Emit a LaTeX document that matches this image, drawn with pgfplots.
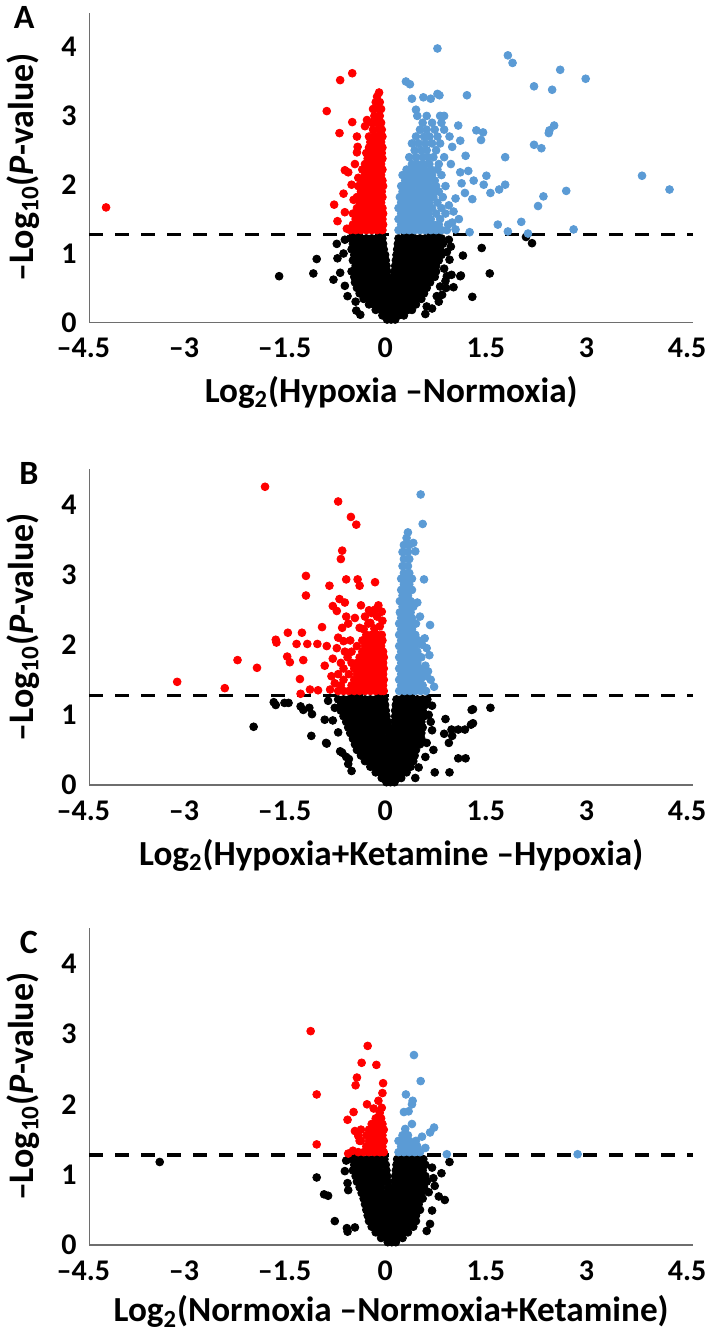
\documentclass[border=0pt]{standalone}
\usepackage{pgfplots}
\pgfplotsset{compat=1.18}
\usepackage{fontspec}
\setmainfont{Carlito}
\definecolor{upblue}{RGB}{91,155,213}
\definecolor{downred}{RGB}{255,0,0}
\definecolor{axgray}{RGB}{110,110,110}
\tikzset{letter/.style={font=\fontsize{17}{20}\selectfont\bfseries}}
\pgfplotsset{
 volc/.style={
  scale only axis, width=301.85pt,
  xmin=-4.5, xmax=4.5, ymin=0, ymax=4.5,
  axis x line*=bottom, axis y line*=left,
  axis line style={axgray, line width=0.7pt},
  xtick={-4.5,-3,-1.5,0,1.5,3,4.5},
  xticklabels={\textendash4.5,\textendash3,\textendash1.5,0,1.5,3,4.5},
  ytick={0,1,2,3,4},
  yticklabels={0,1,2,3,4},
  major tick length=0pt,
  tick style={draw=none},
  ticklabel style={font=\fontsize{15}{17}\selectfont\bfseries, inner sep=0pt},
  xticklabel style={anchor=center, yshift=-12.8pt, xshift=-3pt},
  yticklabel style={anchor=east, xshift=-6.2pt},
  xlabel style={font=\fontsize{17.6}{20}\selectfont\bfseries},
  ylabel style={font=\fontsize{18}{21}\selectfont\bfseries},
  ylabel={\textendash Log\textsubscript{10}(\textit{P}-value)},
  ylabel style={at={(axis description cs:-0.11,0.5)}, anchor=center},
  clip=false,
 },
 dot/.style={only marks, mark=*, mark size=1.95pt, mark options={draw=none}},
 thr/.style={black, line width=1.65pt, dash pattern=on 7pt off 6pt},
}
\begin{document}
\begin{tikzpicture}
%%%%%%%%%%%%%%%% PANEL A
\begin{axis}[volc, at={(0pt,0pt)}, anchor=south west, height=154.8pt,
  xlabel={Log\textsubscript{2}(Hypoxia \textendash Normoxia)},
  xlabel style={at={(axis description cs:0.5,-0.226)}, anchor=center}]
\addplot[dot, black] coordinates {
(-0.61,1.22)(-0.53,1.22)(-0.45,1.22)(-0.37,1.22)(-0.29,1.22)(-0.21,1.22)(-0.13,1.22)(0.11,1.22)(0.19,1.22)(0.27,1.22)(0.35,1.22)(0.43,1.22)(0.51,1.22)(0.59,1.22)(0.67,1.22)(0.75,1.22)
(-0.57,1.14)(-0.49,1.14)(-0.41,1.14)(-0.33,1.14)(-0.25,1.14)(-0.17,1.14)(-0.12,1.14)(0.10,1.14)(0.15,1.14)(0.23,1.14)(0.31,1.14)(0.39,1.14)(0.47,1.14)(0.55,1.14)(0.63,1.14)(0.71,1.14)(0.77,1.14)
(-0.59,1.06)(-0.51,1.06)(-0.43,1.06)(-0.35,1.06)(-0.27,1.06)(-0.19,1.06)(-0.11,1.06)(0.09,1.06)(0.17,1.06)(0.25,1.06)(0.33,1.06)(0.41,1.06)(0.49,1.06)(0.57,1.06)(0.65,1.06)(0.73,1.06)
(-0.55,0.98)(-0.47,0.98)(-0.39,0.98)(-0.31,0.98)(-0.23,0.98)(-0.15,0.98)(-0.09,0.98)(0.08,0.98)(0.13,0.98)(0.21,0.98)(0.29,0.98)(0.37,0.98)(0.45,0.98)(0.53,0.98)(0.61,0.98)(0.69,0.98)(0.75,0.98)
(-0.57,0.90)(-0.49,0.90)(-0.41,0.90)(-0.33,0.90)(-0.25,0.90)(-0.17,0.90)(-0.08,0.90)(0.07,0.90)(0.15,0.90)(0.23,0.90)(0.31,0.90)(0.39,0.90)(0.47,0.90)(0.55,0.90)(0.63,0.90)(0.71,0.90)
(-0.53,0.82)(-0.45,0.82)(-0.37,0.82)(-0.29,0.82)(-0.21,0.82)(-0.13,0.82)(-0.07,0.82)(0.06,0.82)(0.11,0.82)(0.19,0.82)(0.27,0.82)(0.35,0.82)(0.43,0.82)(0.51,0.82)(0.59,0.82)(0.67,0.82)
(-0.59,0.74)(-0.51,0.74)(-0.43,0.74)(-0.35,0.74)(-0.27,0.74)(-0.19,0.74)(-0.11,0.74)(-0.06,0.74)(0.05,0.74)(0.13,0.74)(0.21,0.74)(0.29,0.74)(0.37,0.74)(0.45,0.74)(0.53,0.74)(0.61,0.74)(0.67,0.74)
(-0.55,0.66)(-0.47,0.66)(-0.39,0.66)(-0.31,0.66)(-0.23,0.66)(-0.15,0.66)(-0.05,0.66)(0.04,0.66)(0.09,0.66)(0.17,0.66)(0.25,0.66)(0.33,0.66)(0.41,0.66)(0.49,0.66)(0.57,0.66)(0.65,0.66)
(-0.54,0.58)(-0.46,0.58)(-0.38,0.58)(-0.30,0.58)(-0.22,0.58)(-0.14,0.58)(-0.06,0.58)(0.02,0.58)(0.10,0.58)(0.18,0.58)(0.26,0.58)(0.34,0.58)(0.42,0.58)(0.50,0.58)(0.58,0.58)
(-0.51,0.50)(-0.43,0.50)(-0.35,0.50)(-0.27,0.50)(-0.19,0.50)(-0.11,0.50)(-0.03,0.50)(0.05,0.50)(0.13,0.50)(0.21,0.50)(0.29,0.50)(0.37,0.50)(0.45,0.50)(0.53,0.50)
(-0.47,0.42)(-0.39,0.42)(-0.31,0.42)(-0.23,0.42)(-0.15,0.42)(-0.07,0.42)(0.01,0.42)(0.09,0.42)(0.17,0.42)(0.25,0.42)(0.33,0.42)(0.41,0.42)(0.49,0.42)
(-0.41,0.34)(-0.33,0.34)(-0.25,0.34)(-0.17,0.34)(-0.09,0.34)(-0.01,0.34)(0.07,0.34)(0.15,0.34)(0.23,0.34)(0.31,0.34)(0.39,0.34)(0.45,0.34)
(-0.33,0.26)(-0.25,0.26)(-0.17,0.26)(-0.09,0.26)(-0.01,0.26)(0.07,0.26)(0.15,0.26)(0.23,0.26)(0.31,0.26)(0.37,0.26)
(-0.23,0.18)(-0.15,0.18)(-0.07,0.18)(0.01,0.18)(0.09,0.18)(0.17,0.18)(0.25,0.18)(0.31,0.18)
(-0.13,0.10)(-0.05,0.10)(0.03,0.10)(0.11,0.10)(0.19,0.10)
(-0.06,0.04)(0.00,0.04)(0.06,0.04)
(-1.67,0.67)(-1.16,0.71)(-1.11,0.92)(-0.81,1.14)(-0.80,0.93)(-0.86,0.62)(-0.76,0.72)(-0.69,0.53)(-0.65,0.38)(-0.53,0.30)(-0.52,0.17)(-0.46,0.11)(-0.71,1.00)(-0.69,1.20)
(2.01,1.24)(2.10,1.15)(1.35,1.08)(1.07,0.97)(1.47,0.71)(1.04,0.68)(0.90,0.69)(1.21,0.37)(0.93,0.51)(0.82,0.50)(0.87,0.91)(0.86,1.20)(0.89,1.10)(0.81,0.60)(0.76,0.40)(0.71,0.30)(0.61,0.20)(0.51,0.12)(0.79,0.78)(0.83,1.02)(0.83,0.67)(1.03,0.67)(0.73,0.52)(0.68,0.38)(0.53,0.23)
};
\addplot[dot, downred] coordinates {
(-0.61,1.34)(-0.53,1.34)(-0.45,1.34)(-0.37,1.34)(-0.29,1.34)(-0.21,1.34)(-0.13,1.34)
(-0.57,1.42)(-0.49,1.42)(-0.41,1.42)(-0.33,1.42)(-0.25,1.42)(-0.17,1.42)(-0.12,1.42)
(-0.53,1.50)(-0.45,1.50)(-0.37,1.50)(-0.29,1.50)(-0.21,1.50)(-0.13,1.50)
(-0.57,1.58)(-0.49,1.58)(-0.41,1.58)(-0.33,1.58)(-0.25,1.58)(-0.17,1.58)(-0.12,1.58)
(-0.51,1.66)(-0.43,1.66)(-0.35,1.66)(-0.27,1.66)(-0.19,1.66)(-0.13,1.66)
(-0.47,1.74)(-0.39,1.74)(-0.31,1.74)(-0.23,1.74)(-0.15,1.74)
(-0.51,1.82)(-0.43,1.82)(-0.35,1.82)(-0.27,1.82)(-0.19,1.82)(-0.13,1.82)
(-0.45,1.90)(-0.37,1.90)(-0.29,1.90)(-0.21,1.90)(-0.14,1.90)
(-0.49,1.98)(-0.41,1.98)(-0.33,1.98)(-0.25,1.98)(-0.17,1.98)(-0.12,1.98)
(-0.43,2.06)(-0.35,2.06)(-0.27,2.06)(-0.19,2.06)(-0.13,2.06)
(-0.39,2.14)(-0.31,2.14)(-0.23,2.14)(-0.15,2.14)
(-0.43,2.22)(-0.35,2.22)(-0.27,2.22)(-0.19,2.22)(-0.13,2.22)
(-0.39,2.30)(-0.31,2.30)(-0.23,2.30)(-0.15,2.30)
(-0.35,2.38)(-0.27,2.38)(-0.19,2.38)(-0.13,2.38)
(-0.37,2.46)(-0.29,2.46)(-0.21,2.46)(-0.14,2.46)
(-0.33,2.54)(-0.25,2.54)(-0.17,2.54)(-0.13,2.54)
(-0.31,2.62)(-0.23,2.62)(-0.15,2.62)
(-0.33,2.70)(-0.25,2.70)(-0.17,2.70)(-0.13,2.70)
(-0.27,2.80)(-0.19,2.80)(-0.14,2.80)
(-0.29,2.90)(-0.21,2.90)(-0.15,2.90)
(-0.25,3.00)(-0.17,3.00)
(-0.27,3.10)(-0.19,3.10)(-0.15,3.10)
(-0.23,3.20)(-0.17,3.20)(-0.21,3.28)(-0.18,3.34)
(-0.58,3.62)(-0.76,3.52)(-0.96,3.07)(-0.77,2.75)(-0.58,2.91)(-0.85,1.71)(-0.80,1.47)(-0.71,1.87)(-0.69,2.21)(-0.64,2.18)(-0.56,1.78)(-0.66,1.36)(-0.51,2.47)(-0.50,2.55)(-0.51,2.70)(-0.39,2.85)(-0.36,2.94)(-0.69,1.60)(-0.59,2.00)(-0.54,2.30)(-0.49,2.10)
(-4.25,1.67)
};
\addplot[dot, upblue] coordinates {
(0.11,1.34)(0.19,1.34)(0.27,1.34)(0.35,1.34)(0.43,1.34)(0.51,1.34)(0.59,1.34)(0.67,1.34)(0.75,1.34)(0.83,1.34)
(0.15,1.42)(0.23,1.42)(0.31,1.42)(0.39,1.42)(0.47,1.42)(0.55,1.42)(0.63,1.42)(0.71,1.42)(0.85,1.42)
(0.11,1.50)(0.19,1.50)(0.27,1.50)(0.35,1.50)(0.43,1.50)(0.51,1.50)(0.59,1.50)(0.73,1.50)
(0.15,1.58)(0.23,1.58)(0.31,1.58)(0.39,1.58)(0.47,1.58)(0.55,1.58)(0.67,1.58)(0.81,1.58)
(0.11,1.66)(0.19,1.66)(0.27,1.66)(0.35,1.66)(0.43,1.66)(0.51,1.66)(0.61,1.66)(0.75,1.66)
(0.15,1.74)(0.23,1.74)(0.31,1.74)(0.39,1.74)(0.49,1.74)(0.57,1.74)(0.69,1.74)
(0.13,1.82)(0.21,1.82)(0.29,1.82)(0.37,1.82)(0.45,1.82)(0.55,1.82)(0.63,1.82)(0.77,1.82)
(0.17,1.90)(0.25,1.90)(0.33,1.90)(0.41,1.90)(0.51,1.90)(0.61,1.90)(0.71,1.90)
(0.15,1.98)(0.23,1.98)(0.31,1.98)(0.41,1.98)(0.47,1.98)(0.57,1.98)(0.67,1.98)(0.81,1.98)
(0.21,2.06)(0.29,2.06)(0.37,2.06)(0.47,2.06)(0.55,2.06)(0.65,2.06)
(0.17,2.14)(0.27,2.14)(0.35,2.14)(0.43,2.14)(0.53,2.14)(0.61,2.14)(0.75,2.14)
(0.23,2.22)(0.33,2.22)(0.41,2.22)(0.49,2.22)(0.59,2.22)(0.69,2.22)
(0.31,2.30)(0.39,2.30)(0.47,2.30)(0.57,2.30)(0.71,2.30)
(0.27,2.40)(0.37,2.40)(0.47,2.40)(0.55,2.40)(0.63,2.40)(0.79,2.40)
(0.35,2.50)(0.45,2.50)(0.53,2.50)(0.67,2.50)
(0.31,2.60)(0.41,2.60)(0.51,2.60)(0.61,2.60)(0.73,2.60)
(0.37,2.70)(0.49,2.70)(0.57,2.70)(0.69,2.70)(0.87,2.70)
(0.43,2.80)(0.53,2.80)(0.65,2.80)(0.79,2.80)
(0.47,2.90)(0.61,2.90)(0.75,2.90)
(0.39,3.00)(0.53,3.00)(0.73,3.00)(0.79,3.00)
(0.69,3.98)(0.22,3.50)(0.28,3.46)(0.31,3.25)(0.48,3.27)(0.69,3.32)(1.13,3.30)(0.37,3.09)(1.00,2.86)(1.03,2.64)(1.11,2.42)(1.03,2.18)(1.23,2.06)(1.15,2.20)
(1.74,3.88)(1.81,3.77)(2.52,3.67)(2.90,3.54)(2.13,3.43)(2.40,3.38)(2.43,2.86)(2.36,2.79)(2.35,2.75)(2.13,2.58)(2.24,2.53)(1.27,2.79)(1.37,2.76)(1.34,2.65)(1.70,2.40)
(3.74,2.13)(4.15,1.93)(2.61,1.91)(2.27,1.83)(2.19,1.69)(1.70,2.00)(1.61,1.93)(1.42,2.13)(1.48,1.88)(1.38,2.00)(1.21,1.79)(1.10,1.88)(1.05,2.02)(0.96,1.80)(0.93,1.61)
(1.59,1.42)(1.94,1.46)(1.74,1.32)(2.04,1.29)(2.72,1.35)(1.17,1.31)(0.91,1.45)(0.96,1.35)(0.89,2.30)(0.91,2.55)(0.86,1.70)(1.01,1.50)(0.72,3.30)(0.59,3.25)
};
\addplot[thr] coordinates {(-4.5,1.28) (4.5,1.28)};
\node[letter] at (axis description cs:-0.108,0.983) {A};
\end{axis}
%%%%%%%%%%%%%%%% PANEL B
\begin{axis}[volc, at={(0pt,-231.35pt)}, anchor=south west, height=157.9pt,
  xlabel={Log\textsubscript{2}(Hypoxia+Ketamine \textendash Hypoxia)},
  xlabel style={at={(axis description cs:0.5,-0.222)}, anchor=center}]
\addplot[dot, black] coordinates {
(-0.79,1.22)(-0.71,1.22)(-0.63,1.22)(-0.55,1.22)(-0.47,1.22)(-0.39,1.22)(-0.31,1.22)(-0.23,1.22)(-0.15,1.22)(-0.10,1.22)(0.08,1.22)(0.15,1.22)(0.23,1.22)(0.31,1.22)(0.39,1.22)(0.47,1.22)(0.54,1.22)
(-0.75,1.14)(-0.67,1.14)(-0.59,1.14)(-0.51,1.14)(-0.43,1.14)(-0.35,1.14)(-0.27,1.14)(-0.19,1.14)(-0.11,1.14)(-0.09,1.14)(0.07,1.14)(0.11,1.14)(0.19,1.14)(0.27,1.14)(0.35,1.14)(0.43,1.14)(0.51,1.14)
(-0.75,1.06)(-0.67,1.06)(-0.59,1.06)(-0.51,1.06)(-0.43,1.06)(-0.35,1.06)(-0.27,1.06)(-0.19,1.06)(-0.11,1.06)(-0.08,1.06)(0.06,1.06)(0.15,1.06)(0.23,1.06)(0.31,1.06)(0.39,1.06)(0.47,1.06)
(-0.71,0.98)(-0.63,0.98)(-0.55,0.98)(-0.47,0.98)(-0.39,0.98)(-0.31,0.98)(-0.23,0.98)(-0.15,0.98)(-0.07,0.98)(0.06,0.98)(0.11,0.98)(0.19,0.98)(0.27,0.98)(0.35,0.98)(0.43,0.98)(0.49,0.98)
(-0.67,0.90)(-0.59,0.90)(-0.51,0.90)(-0.43,0.90)(-0.35,0.90)(-0.27,0.90)(-0.19,0.90)(-0.11,0.90)(-0.05,0.90)(0.05,0.90)(0.13,0.90)(0.21,0.90)(0.29,0.90)(0.37,0.90)(0.45,0.90)
(-0.64,0.82)(-0.56,0.82)(-0.48,0.82)(-0.40,0.82)(-0.32,0.82)(-0.24,0.82)(-0.16,0.82)(-0.08,0.82)(-0.04,0.82)(0.05,0.82)(0.09,0.82)(0.17,0.82)(0.25,0.82)(0.33,0.82)(0.41,0.82)(0.47,0.82)
(-0.61,0.74)(-0.53,0.74)(-0.45,0.74)(-0.37,0.74)(-0.29,0.74)(-0.21,0.74)(-0.13,0.74)(-0.03,0.74)(0.04,0.74)(0.13,0.74)(0.21,0.74)(0.29,0.74)(0.37,0.74)(0.45,0.74)
(-0.57,0.66)(-0.49,0.66)(-0.41,0.66)(-0.33,0.66)(-0.25,0.66)(-0.17,0.66)(-0.09,0.66)(-0.01,0.66)(0.07,0.66)(0.15,0.66)(0.23,0.66)(0.31,0.66)(0.39,0.66)(0.45,0.66)
(-0.54,0.58)(-0.46,0.58)(-0.38,0.58)(-0.30,0.58)(-0.22,0.58)(-0.14,0.58)(-0.06,0.58)(0.02,0.58)(0.10,0.58)(0.18,0.58)(0.26,0.58)(0.34,0.58)(0.43,0.58)
(-0.51,0.50)(-0.43,0.50)(-0.35,0.50)(-0.27,0.50)(-0.19,0.50)(-0.11,0.50)(-0.03,0.50)(0.05,0.50)(0.13,0.50)(0.21,0.50)(0.29,0.50)(0.37,0.50)
(-0.45,0.42)(-0.37,0.42)(-0.29,0.42)(-0.21,0.42)(-0.13,0.42)(-0.05,0.42)(0.03,0.42)(0.11,0.42)(0.19,0.42)(0.27,0.42)(0.35,0.42)
(-0.39,0.34)(-0.31,0.34)(-0.23,0.34)(-0.15,0.34)(-0.07,0.34)(0.01,0.34)(0.09,0.34)(0.17,0.34)(0.25,0.34)(0.33,0.34)
(-0.31,0.26)(-0.23,0.26)(-0.15,0.26)(-0.07,0.26)(0.01,0.26)(0.09,0.26)(0.17,0.26)(0.25,0.26)(0.29,0.26)
(-0.23,0.18)(-0.15,0.18)(-0.07,0.18)(0.01,0.18)(0.09,0.18)(0.17,0.18)(0.23,0.18)
(-0.14,0.10)(-0.06,0.10)(0.02,0.10)(0.10,0.10)(0.15,0.10)
(-0.07,0.04)(-0.01,0.04)(0.05,0.04)
(-1.75,1.18)(-1.72,1.14)(-1.53,1.17)(-1.31,1.07)(-1.22,1.10)(-2.05,0.83)(-1.19,0.70)(-0.97,0.60)(-0.99,0.93)(-0.87,0.92)(-0.84,1.10)(-0.94,1.20)(-0.76,0.48)(-0.67,0.40)(-0.64,0.30)(-0.59,0.20)(-0.79,0.75)(-1.59,1.17)(-1.35,1.12)(-1.18,1.01)(-0.96,0.59)(-0.73,0.46)(-0.63,0.37)
(0.61,1.13)(0.81,0.94)(1.20,1.07)(1.48,1.10)(1.19,0.86)(0.90,0.79)(1.00,0.79)(1.10,0.79)(0.79,0.73)(0.61,0.78)(0.63,0.50)(1.00,0.38)(0.65,0.18)(0.56,1.00)(0.59,0.90)(0.53,0.60)(0.51,0.40)(0.41,0.25)(0.36,0.10)(0.91,0.70)(0.86,0.60)(1.22,1.08)(1.22,0.88)(1.11,0.38)(0.87,0.18)
};
\addplot[dot, downred] coordinates {
(-0.79,1.34)(-0.71,1.34)(-0.63,1.34)(-0.55,1.34)(-0.47,1.34)(-0.39,1.34)(-0.31,1.34)(-0.23,1.34)(-0.15,1.34)(-0.11,1.34)
(-0.75,1.42)(-0.59,1.42)(-0.51,1.42)(-0.43,1.42)(-0.35,1.42)(-0.27,1.42)(-0.19,1.42)(-0.12,1.42)
(-0.71,1.50)(-0.55,1.50)(-0.47,1.50)(-0.39,1.50)(-0.31,1.50)(-0.23,1.50)(-0.15,1.50)(-0.11,1.50)
(-0.79,1.58)(-0.63,1.58)(-0.51,1.58)(-0.43,1.58)(-0.35,1.58)(-0.27,1.58)(-0.19,1.58)(-0.12,1.58)
(-0.71,1.66)(-0.55,1.66)(-0.47,1.66)(-0.39,1.66)(-0.31,1.66)(-0.23,1.66)(-0.15,1.66)(-0.11,1.66)
(-0.75,1.74)(-0.59,1.74)(-0.51,1.74)(-0.43,1.74)(-0.35,1.74)(-0.27,1.74)(-0.19,1.74)(-0.12,1.74)
(-0.65,1.82)(-0.47,1.82)(-0.39,1.82)(-0.31,1.82)(-0.23,1.82)(-0.15,1.82)(-0.11,1.82)
(-0.59,1.90)(-0.43,1.90)(-0.35,1.90)(-0.27,1.90)(-0.19,1.90)(-0.12,1.90)
(-0.51,1.98)(-0.39,1.98)(-0.31,1.98)(-0.23,1.98)(-0.15,1.98)
(-0.61,2.06)(-0.43,2.06)(-0.35,2.06)(-0.27,2.06)(-0.19,2.06)(-0.13,2.06)
(-0.37,2.14)(-0.29,2.14)(-0.21,2.14)(-0.14,2.14)
(-0.41,2.22)(-0.25,2.23)(-0.17,2.26)(-0.31,2.31)(-0.13,2.34)(-0.21,2.40)(-0.33,2.49)(-0.14,2.47)(-0.47,2.24)
(-0.73,2.24)(-1.03,2.25)(-0.64,2.30)(-0.45,2.56)(-0.19,2.56)(-0.29,2.45)(-0.24,2.50)(-0.87,2.55)(-0.81,2.48)(-0.67,2.40)(-0.54,2.38)(-0.39,2.40)(-0.34,2.30)(-0.67,2.93)(-0.50,2.93)(-0.47,2.84)(-0.24,2.89)(-0.92,2.84)(-0.77,2.65)(-0.69,2.60)
(-1.27,2.98)(-1.27,2.70)(-0.73,3.34)(-0.75,3.22)(-0.52,3.71)(-0.60,3.82)(-0.79,4.04)(-1.88,4.25)(-1.33,2.17)(-1.54,2.17)(-1.72,2.07)(-1.71,2.03)(-1.41,2.01)(-1.25,2.01)(-1.10,2.01)(-0.96,1.98)(-1.55,1.83)(-1.51,1.75)(-1.31,1.78)
(-2.29,1.78)(-2.00,1.67)(-3.19,1.47)(-2.48,1.38)(-1.36,1.51)(-1.35,1.30)(-1.21,1.36)(-1.09,1.35)(-0.91,1.36)(-0.99,1.70)(-0.89,1.55)(-0.84,1.45)(-0.87,1.80)(-0.81,1.95)(-0.79,2.10)(-0.71,2.05)(-0.69,1.90)
};
\addplot[dot, upblue] coordinates {
(0.12,1.34)(0.20,1.34)(0.28,1.34)(0.36,1.34)(0.44,1.34)(0.52,1.34)
(0.15,1.42)(0.23,1.42)(0.31,1.42)(0.39,1.42)(0.47,1.42)
(0.12,1.50)(0.20,1.50)(0.28,1.50)(0.36,1.50)(0.44,1.50)
(0.15,1.58)(0.23,1.58)(0.31,1.58)(0.39,1.58)(0.49,1.58)
(0.12,1.66)(0.20,1.66)(0.28,1.66)(0.36,1.66)(0.44,1.66)
(0.15,1.74)(0.23,1.74)(0.31,1.74)(0.39,1.74)
(0.12,1.82)(0.20,1.82)(0.28,1.82)(0.36,1.82)(0.45,1.82)
(0.15,1.90)(0.23,1.90)(0.31,1.90)(0.39,1.90)
(0.12,1.98)(0.20,1.98)(0.28,1.98)(0.36,1.98)
(0.15,2.06)(0.23,2.06)(0.31,2.06)(0.41,2.06)
(0.12,2.14)(0.20,2.14)(0.28,2.14)(0.36,2.14)
(0.15,2.22)(0.23,2.22)(0.31,2.22)
(0.12,2.30)(0.20,2.30)(0.28,2.30)(0.37,2.30)
(0.15,2.38)(0.23,2.38)(0.31,2.38)
(0.13,2.46)(0.21,2.46)(0.29,2.46)
(0.17,2.54)(0.25,2.54)(0.33,2.54)
(0.13,2.62)(0.21,2.62)(0.29,2.62)
(0.17,2.70)(0.25,2.70)
(0.15,2.78)(0.23,2.78)(0.31,2.78)
(0.19,2.86)(0.27,2.86)
(0.15,2.94)(0.23,2.94)(0.31,2.94)
(0.19,3.02)(0.27,3.02)
(0.17,3.12)(0.25,3.12)
(0.19,3.22)(0.27,3.22)
(0.17,3.32)(0.25,3.32)
(0.19,3.42)(0.27,3.42)
(0.23,3.52)
(0.44,4.14)(0.47,3.72)(0.25,3.60)(0.33,3.45)(0.36,3.33)(0.58,2.28)(0.49,2.93)(0.50,2.09)(0.57,1.85)(0.64,1.40)(0.53,1.55)(0.51,1.70)(0.46,2.00)(0.43,2.40)(0.39,2.60)(0.53,1.95)(0.55,1.62)(0.59,1.50)
};
\addplot[thr] coordinates {(-4.5,1.28) (4.5,1.28)};
\node[letter] at (axis description cs:-0.10,0.988) {B};
\end{axis}
%%%%%%%%%%%%%%%% PANEL C
\begin{axis}[volc, at={(0pt,-461.35pt)}, anchor=south west, height=158.3pt,
  xlabel={Log\textsubscript{2}(Normoxia \textendash Normoxia+Ketamine)},
  xlabel style={at={(axis description cs:0.5,-0.211)}, anchor=center}]
\addplot[dot, black] coordinates {
(-0.59,1.22)(-0.51,1.22)(-0.43,1.22)(-0.35,1.22)(-0.27,1.22)(-0.19,1.22)(-0.10,1.22)(0.09,1.22)(0.17,1.22)(0.25,1.22)(0.33,1.22)(0.41,1.22)(0.48,1.22)
(-0.55,1.14)(-0.47,1.14)(-0.39,1.14)(-0.31,1.14)(-0.23,1.14)(-0.15,1.14)(-0.08,1.14)(0.08,1.14)(0.13,1.14)(0.21,1.14)(0.29,1.14)(0.37,1.14)(0.45,1.14)(0.51,1.14)
(-0.57,1.06)(-0.49,1.06)(-0.41,1.06)(-0.33,1.06)(-0.25,1.06)(-0.17,1.06)(-0.07,1.06)(0.07,1.06)(0.15,1.06)(0.23,1.06)(0.31,1.06)(0.39,1.06)(0.47,1.06)
(-0.53,0.98)(-0.45,0.98)(-0.37,0.98)(-0.29,0.98)(-0.21,0.98)(-0.13,0.98)(-0.06,0.98)(0.06,0.98)(0.11,0.98)(0.19,0.98)(0.27,0.98)(0.35,0.98)(0.43,0.98)(0.51,0.98)
(-0.51,0.90)(-0.43,0.90)(-0.35,0.90)(-0.27,0.90)(-0.19,0.90)(-0.11,0.90)(-0.05,0.90)(0.05,0.90)(0.13,0.90)(0.21,0.90)(0.29,0.90)(0.37,0.90)(0.45,0.90)(0.53,0.90)
(-0.47,0.82)(-0.39,0.82)(-0.31,0.82)(-0.23,0.82)(-0.15,0.82)(-0.04,0.82)(0.05,0.82)(0.09,0.82)(0.17,0.82)(0.25,0.82)(0.33,0.82)(0.41,0.82)(0.49,0.82)
(-0.44,0.74)(-0.36,0.74)(-0.28,0.74)(-0.20,0.74)(-0.12,0.74)(-0.03,0.74)(0.04,0.74)(0.13,0.74)(0.21,0.74)(0.29,0.74)(0.37,0.74)(0.45,0.74)
(-0.41,0.66)(-0.33,0.66)(-0.25,0.66)(-0.17,0.66)(-0.09,0.66)(-0.01,0.66)(0.07,0.66)(0.15,0.66)(0.23,0.66)(0.31,0.66)(0.39,0.66)(0.47,0.66)
(-0.39,0.58)(-0.31,0.58)(-0.23,0.58)(-0.15,0.58)(-0.07,0.58)(0.01,0.58)(0.09,0.58)(0.17,0.58)(0.25,0.58)(0.33,0.58)(0.41,0.58)
(-0.37,0.50)(-0.29,0.50)(-0.21,0.50)(-0.13,0.50)(-0.05,0.50)(0.03,0.50)(0.11,0.50)(0.19,0.50)(0.27,0.50)(0.35,0.50)(0.43,0.50)
(-0.35,0.42)(-0.27,0.42)(-0.19,0.42)(-0.11,0.42)(-0.03,0.42)(0.05,0.42)(0.13,0.42)(0.21,0.42)(0.29,0.42)(0.37,0.42)
(-0.33,0.34)(-0.25,0.34)(-0.17,0.34)(-0.09,0.34)(-0.01,0.34)(0.07,0.34)(0.15,0.34)(0.23,0.34)(0.31,0.34)(0.37,0.34)
(-0.29,0.26)(-0.21,0.26)(-0.13,0.26)(-0.05,0.26)(0.03,0.26)(0.11,0.26)(0.19,0.26)(0.27,0.26)(0.33,0.26)
(-0.23,0.18)(-0.15,0.18)(-0.07,0.18)(0.01,0.18)(0.09,0.18)(0.17,0.18)(0.25,0.18)
(-0.15,0.10)(-0.07,0.10)(0.01,0.10)(0.09,0.10)(0.17,0.10)
(-0.05,0.04)(0.01,0.04)(0.07,0.04)
(-3.45,1.18)(-1.11,0.96)(-1.00,0.72)(-0.94,0.70)(-0.65,0.88)(-0.64,0.78)(-0.84,0.34)(-0.66,0.24)(-0.65,0.19)(-0.54,0.25)(-0.69,1.05)(-0.67,1.20)
(0.87,1.18)(0.80,0.64)(0.71,0.69)(0.65,0.84)(0.75,1.02)(0.58,0.30)(0.61,0.49)(0.61,1.10)(0.63,0.95)(0.56,0.75)(0.53,0.20)
};
\addplot[dot, downred] coordinates {
(-0.49,1.32)(-0.41,1.32)(-0.33,1.32)(-0.25,1.32)(-0.17,1.32)(-0.11,1.32)
(-0.37,1.40)(-0.29,1.40)(-0.21,1.40)(-0.13,1.40)
(-0.45,1.48)(-0.33,1.48)(-0.25,1.48)(-0.17,1.48)(-0.11,1.48)
(-0.37,1.56)(-0.29,1.56)(-0.21,1.56)(-0.13,1.56)
(-0.45,1.64)(-0.33,1.64)(-0.25,1.64)(-0.17,1.64)(-0.11,1.64)
(-0.29,1.72)(-0.21,1.72)(-0.13,1.72)
(-0.23,1.80)(-0.15,1.80)
(-1.20,3.04)(-0.35,2.83)(-1.11,2.14)(-1.11,1.43)(-0.44,2.59)(-0.22,2.56)(-0.51,2.38)(-0.53,2.27)(-0.12,2.30)(-0.13,2.16)(-0.19,2.05)(-0.36,2.00)(-0.26,1.94)(-0.56,1.89)(-0.65,1.78)(-0.57,1.34)(-0.14,1.95)(-0.17,1.88)(-0.49,1.55)(-0.54,1.62)(-0.47,1.48)(-0.64,1.30)
};
\addplot[dot, upblue] coordinates {
(0.11,1.32)(0.19,1.32)(0.27,1.32)(0.35,1.32)(0.43,1.32)
(0.15,1.40)(0.23,1.40)(0.31,1.40)(0.39,1.40)
(0.11,1.48)(0.19,1.48)(0.27,1.48)(0.37,1.48)
(0.17,1.56)(0.25,1.56)
(0.34,2.70)(0.44,2.33)(0.22,2.14)(0.32,2.05)(0.31,2.00)(0.19,1.89)(0.26,1.90)(0.31,1.72)(0.64,1.67)(0.58,1.60)(0.46,1.54)(0.83,1.29)(2.78,1.29)(0.21,1.65)(0.51,1.38)
};
\addplot[thr] coordinates {(-4.5,1.28) (4.5,1.28)};
\node[letter] at (axis description cs:-0.10,0.957) {C};
\end{axis}
\pgfresetboundingbox
\path (-44.65pt,161.15pt) rectangle (309.85pt,-510.35pt);
\end{tikzpicture}
\end{document}
